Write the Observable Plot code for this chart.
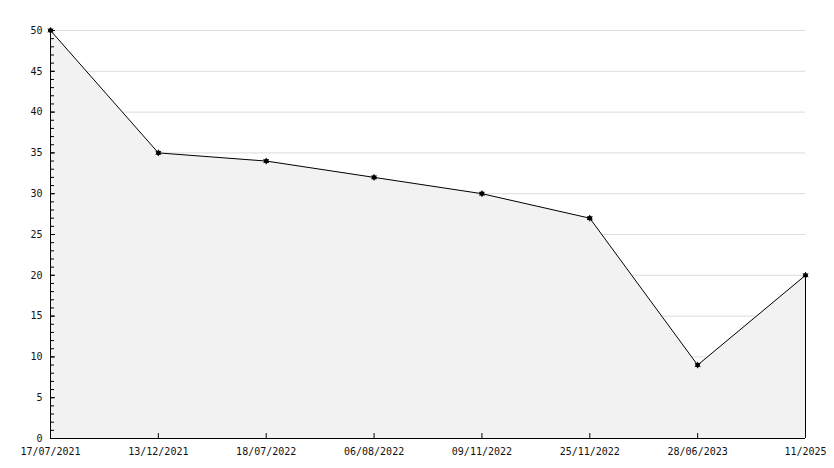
<!DOCTYPE html>
<html><head><meta charset="utf-8">
<script src="https://cdn.jsdelivr.net/npm/d3@7"></script>
<script src="https://cdn.jsdelivr.net/npm/@observablehq/plot@0.6"></script>
<style>body{margin:0;background:#fff}</style>
</head><body><div id="chart"></div>
<script>
const dates = ["17/07/2021","13/12/2021","18/07/2022","06/08/2022","09/11/2022","25/11/2022","28/06/2023","11/2025"];
const values = [50,35,34,32,30,27,9,20];
const yMajor = [0,5,10,15,20,25,30,35,40,45,50];
const yMinor = d3.range(0,51);
const data = dates.map((d,i)=>({d, v: values[i]}));
const last = data[data.length-1];
const chart = Plot.plot({
  width: 834, height: 468,
  marginLeft: 50, marginRight: 29, marginTop: 30, marginBottom: 30,
  style: {fontFamily: "DejaVu Sans Mono", fontSize: "10px", color: "#000", background: "#fff"},
  x: {type: "point", domain: dates, padding: 0, round: false},
  y: {domain: [0,50]},
  marks: [
    Plot.gridY(yMajor.slice(1), {stroke: "#dcdcdc", strokeOpacity: 1}),
    Plot.areaY(data, {x: "d", y: "v", fill: "#f2f2f2"}),
    Plot.lineY(data, {x: "d", y: "v", stroke: "#000", strokeWidth: 1}),
    Plot.ruleX([last], {x: "d", y1: 0, y2: "v", stroke: "#000"}),
    Plot.axisY({ticks: yMinor, tickSize: -4, text: null, label: null}),
    Plot.axisY({ticks: yMajor.slice(1), tickSize: -5, text: null, label: null}),
    Plot.axisY({ticks: yMajor, tickSize: 0, tickPadding: 8, label: null, fontSize: 10, fill: "#111"}),
    Plot.ruleY([0], {stroke: "#000"}),
    Plot.ruleX([dates[0]], {x: d=>d, y1: 0, y2: 50, stroke: "#000"}),
    Plot.axisX({tickSize: 0, tickPadding: 9, label: null, fontSize: 10, fill: "#111"}),
    Plot.ruleX(dates.slice(1), {x: d=>d, y1: 0, y2: 0.6, stroke: "#000"}),
    Plot.dot(data, {x: "d", y: "v", r: 2.4, fill: "#000"}),
    Plot.dot(data, {x: "d", y: "v", r: 3, symbol: "asterisk", stroke: "#000", strokeWidth: 1})
  ]
});
document.getElementById("chart").appendChild(chart);
</script></body></html>
